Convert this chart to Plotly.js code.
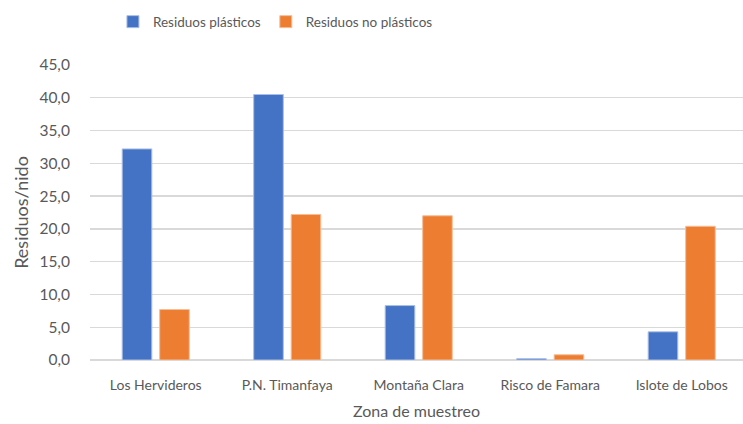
<!DOCTYPE html>
<html>
<head>
<meta charset="utf-8">
<script src="https://cdn.plot.ly/plotly-3.0.1.min.js"></script>
<style>
  html, body { margin: 0; padding: 0; background: #fff; }
  #chart { width: 743px; height: 424px; }
</style>
</head>
<body>
<div id="chart"></div>
<script>
// Sampling zones and mean litter items per nest
const zonas = ["Los Hervideros", "P.N. Timanfaya", "Montaña Clara", "Risco de Famara", "Islote de Lobos"];
const plasticos = [32.2, 40.5, 8.3, 0.2, 4.3];
const noPlasticos = [7.7, 22.2, 22.0, 0.8, 20.4];
const yTicks = [0, 5, 10, 15, 20, 25, 30, 35, 40, 45];

const textColor = "#595959";
const fontFamily = "Lato, 'Open Sans', sans-serif";

const traces = [
  {
    type: "bar",
    name: "Residuos plásticos",
    x: zonas,
    y: plasticos,
    marker: { color: "#4472C4", line: { color: "#A9BFE6", width: 1 } },
    hoverinfo: "x+y"
  },
  {
    type: "bar",
    name: "Residuos no plásticos",
    x: zonas,
    y: noPlasticos,
    marker: { color: "#ED7D31", line: { color: "#F6BE98", width: 1 } },
    hoverinfo: "x+y"
  }
];

const layout = {
  width: 743,
  height: 424,
  margin: { l: 90, r: 0, t: 65, b: 64 },
  paper_bgcolor: "#ffffff",
  plot_bgcolor: "#ffffff",
  separators: ",.",
  barmode: "group",
  bargap: 0.43,
  bargroupgap: 0.21,
  font: { family: fontFamily, size: 14, color: textColor },
  showlegend: true,
  legend: {
    orientation: "h",
    xref: "container",
    yref: "container",
    x: 0.152,
    xanchor: "left",
    y: 0.985,
    yanchor: "top",
    font: { family: fontFamily, size: 13.5, color: textColor },
    itemwidth: 30,
    traceorder: "normal"
  },
  xaxis: {
    type: "category",
    range: [-0.5, 4.466],
    showgrid: false,
    showline: false,
    zeroline: false,
    ticks: "outside",
    ticklen: 12,
    tickcolor: "rgba(0,0,0,0)",
    tickfont: { family: fontFamily, size: 14, color: textColor },
    title: {
      text: "Zona de muestreo",
      font: { family: fontFamily, size: 16, color: textColor },
      standoff: 14
    }
  },
  yaxis: {
    range: [0, 45],
    tickvals: yTicks,
    tickformat: ".1f",
    showgrid: true,
    gridcolor: "#D9D9D9",
    gridwidth: 1.3,
    zeroline: true,
    zerolinecolor: "#D9D9D9",
    zerolinewidth: 1.3,
    showline: false,
    ticks: "outside",
    ticklen: 16,
    tickcolor: "rgba(0,0,0,0)",
    tickfont: { family: fontFamily, size: 15.5, color: textColor },
    title: {
      text: "Residuos/nido",
      font: { family: fontFamily, size: 18, color: textColor },
      standoff: 6
    }
  }
};

Plotly.newPlot("chart", traces, layout, { displayModeBar: false, staticPlot: true });
</script>
</body>
</html>
